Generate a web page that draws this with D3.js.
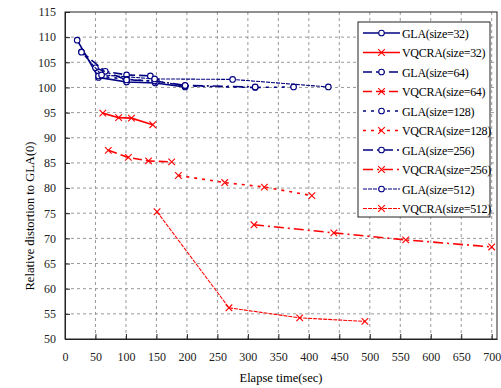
<!DOCTYPE html>
<html>
<head>
<meta charset="utf-8">
<script src="https://cdn.jsdelivr.net/npm/d3@7"></script>
<style>
  body { margin: 0; background: #fff; }
  text { font-family: "Liberation Serif", "DejaVu Serif", serif; }
</style>
</head>
<body>
<div id="chart"></div>
<script>
// values: [elapse time (sec), relative distortion]
const gla32 = [[20, 109.4], [55, 102.0], [101, 101.1], [148, 100.9], [197, 100.1]];
const gla64 = [[27, 107.1], [66, 103.2], [101, 102.5], [140, 102.3]];
const gla128 = [[55, 102.3], [101, 101.6], [150, 101.2], [197, 100.3], [312, 100.0], [375, 100.1]];
const gla256 = [[50, 103.9], [101, 101.5], [147, 101.3], [197, 100.4], [312, 100.1]];
const gla512 = [[27, 107.0], [60, 102.5], [147, 101.7], [275, 101.6], [432, 100.1]];
const vq32 = [[62, 94.9], [88, 94.0], [109, 93.9], [144, 92.6]];
const vq64 = [[71, 87.5], [104, 86.1], [137, 85.4], [175, 85.2]];
const vq128 = [[186, 82.5], [262, 81.1], [327, 80.2], [405, 78.5]];
const vq256 = [[310, 72.7], [441, 71.1], [559, 69.7], [700, 68.3]];
const vq512 = [[151, 75.3], [269, 56.2], [385, 54.2], [492, 53.5]];

const xTicks = d3.range(0, 701, 50);
const yTicks = d3.range(50, 116, 5);

const series = [
  {name: "GLA(size=32)", data: gla32, kind: "gla", dash: null, w: 1.6},
  {name: "VQCRA(size=32)", data: vq32, kind: "vq", dash: null, w: 1.6},
  {name: "GLA(size=64)", data: gla64, kind: "gla", dash: "9,4", w: 1.6},
  {name: "VQCRA(size=64)", data: vq64, kind: "vq", dash: "9,4", w: 1.6},
  {name: "GLA(size=128)", data: gla128, kind: "gla", dash: "3,5", w: 1.6},
  {name: "VQCRA(size=128)", data: vq128, kind: "vq", dash: "3,5", w: 1.6},
  {name: "GLA(size=256)", data: gla256, kind: "gla", dash: "10,4,2,4", w: 1.6},
  {name: "VQCRA(size=256)", data: vq256, kind: "vq", dash: "10,4,2,4", w: 1.6},
  {name: "GLA(size=512)", data: gla512, kind: "gla", dash: "4,1", w: 1.1},
  {name: "VQCRA(size=512)", data: vq512, kind: "vq", dash: "4,1", w: 1.1}
];
const colors = {gla: "#000080", vq: "#ff0000"};

const width = 501, height = 388;
const mLeft = 65, mRight = 497, mTop = 12, mBottom = 339;

const x = d3.scaleLinear().domain([0, 708.7]).range([mLeft, mRight]);
const y = d3.scaleLinear().domain([50, 115]).range([mBottom, mTop]);

const svg = d3.select("#chart").append("svg")
  .attr("width", width)
  .attr("height", height);

// grid
svg.append("g").selectAll("line")
  .data(xTicks.filter(d => d > 0))
  .join("line")
  .attr("x1", d => x(d)).attr("x2", d => x(d))
  .attr("y1", mTop).attr("y2", mBottom)
  .attr("stroke", "#999").attr("stroke-dasharray", "3,3");
svg.append("g").selectAll("line")
  .data(yTicks.filter(d => d > 50 && d < 115))
  .join("line")
  .attr("x1", mLeft).attr("x2", mRight)
  .attr("y1", d => y(d)).attr("y2", d => y(d))
  .attr("stroke", "#999").attr("stroke-dasharray", "3,3");

// axes (ticks inward)
const xAxis = svg.append("g")
  .attr("transform", `translate(0,${mBottom})`)
  .call(d3.axisBottom(x).tickValues(xTicks).tickSizeInner(-5).tickSizeOuter(0).tickPadding(13));
const yAxis = svg.append("g")
  .attr("transform", `translate(${mLeft},0)`)
  .call(d3.axisLeft(y).tickValues(yTicks).tickSizeInner(-5).tickSizeOuter(0).tickPadding(9));
[xAxis, yAxis].forEach(a => {
  a.selectAll("text").attr("font-family", "Liberation Serif").attr("font-size", 12).attr("fill", "#222");
  a.select(".domain").attr("stroke", "#222");
  a.selectAll(".tick line").attr("stroke", "#222");
});

// frame
svg.append("rect")
  .attr("x", mLeft).attr("y", mTop)
  .attr("width", mRight - mLeft).attr("height", mBottom - mTop)
  .attr("fill", "none").attr("stroke", "#222");

// titles
svg.append("text")
  .attr("x", (mLeft + mRight) / 2).attr("y", 382)
  .attr("text-anchor", "middle").attr("font-size", 12.5)
  .text("Elapse time(sec)");
svg.append("text")
  .attr("transform", "translate(34,216) rotate(-90)")
  .attr("text-anchor", "middle").attr("font-size", 12.5)
  .text("Relative distortion to GLA(0)");

const line = d3.line().x(d => x(d[0])).y(d => y(d[1]));

function marker(g, kind, cx, cy) {
  const c = colors[kind];
  if (kind === "gla") {
    g.append("circle").attr("cx", cx).attr("cy", cy).attr("r", 2.8)
      .attr("fill", "#fff").attr("stroke", c).attr("stroke-width", 1.1);
  } else {
    const s = 3.3;
    g.append("path")
      .attr("d", `M${cx - s},${cy - s}L${cx + s},${cy + s}M${cx - s},${cy + s}L${cx + s},${cy - s}`)
      .attr("stroke", c).attr("stroke-width", 1.1).attr("fill", "none");
  }
}

const plot = svg.append("g");
series.forEach(s => {
  plot.append("path")
    .attr("d", line(s.data))
    .attr("fill", "none")
    .attr("stroke", colors[s.kind])
    .attr("stroke-width", s.w)
    .attr("stroke-dasharray", s.dash);
  s.data.forEach(d => marker(plot, s.kind, x(d[0]), y(d[1])));
});

// legend
const lg = svg.append("g");
lg.append("rect")
  .attr("x", 358).attr("y", 22).attr("width", 132).attr("height", 195)
  .attr("fill", "#fff").attr("stroke", "#222");
series.forEach((s, i) => {
  const ly = 33 + i * 19.5;
  lg.append("line")
    .attr("x1", 363).attr("x2", 400).attr("y1", ly).attr("y2", ly)
    .attr("stroke", colors[s.kind]).attr("stroke-width", s.w)
    .attr("stroke-dasharray", s.dash);
  marker(lg, s.kind, 381.5, ly);
  lg.append("text")
    .attr("x", 402).attr("y", ly + 4.5)
    .attr("font-size", 12)
    .attr("letter-spacing", -0.3)
    .text(s.name);
});
</script>
</body>
</html>
